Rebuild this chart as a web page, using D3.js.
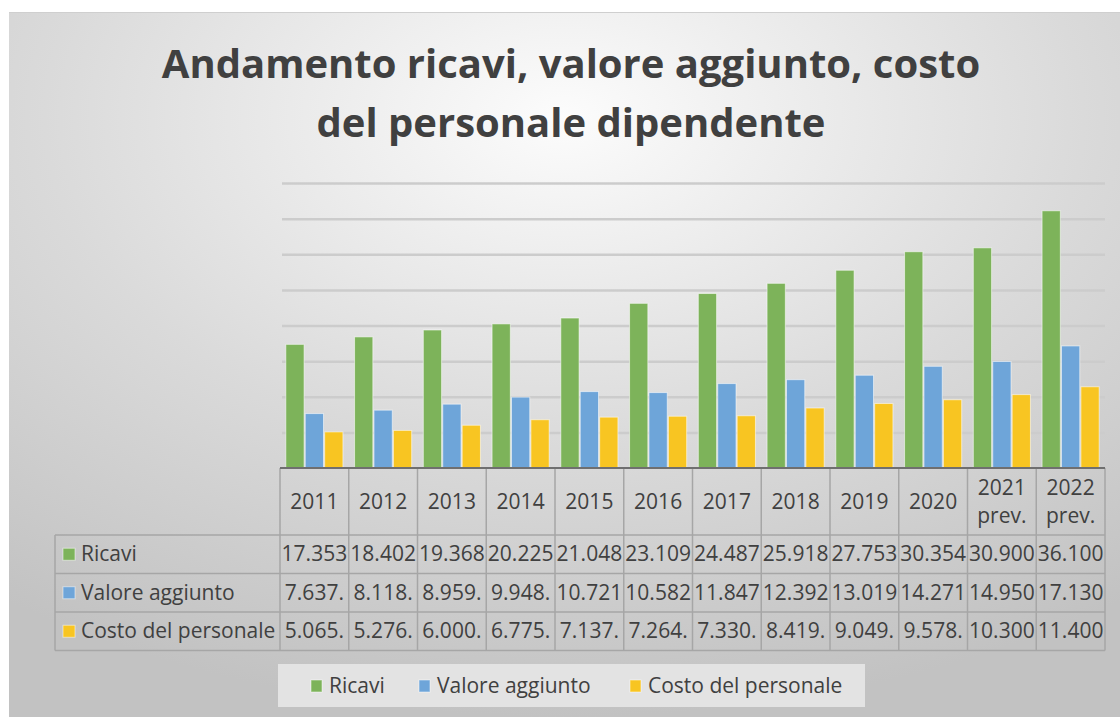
<!DOCTYPE html>
<html>
<head>
<meta charset="utf-8">
<script src="https://cdn.jsdelivr.net/npm/d3@7"></script>
<style>
  html, body { margin: 0; padding: 0; background: #fff; }
  svg { display: block; font-family: "Open Sans", sans-serif; }
</style>
</head>
<body>
<svg id="chart" width="1120" height="717"></svg>
<script>
const categories = ["2011", "2012", "2013", "2014", "2015", "2016", "2017", "2018", "2019", "2020", "2021 prev.", "2022 prev."];
const series = ["Ricavi", "Valore aggiunto", "Costo del personale"];

// values in thousands
const ricavi = [17353, 18402, 19368, 20225, 21048, 23109, 24487, 25918, 27753, 30354, 30900, 36100];
const valoreAggiunto = [7637, 8118, 8959, 9948, 10721, 10582, 11847, 12392, 13019, 14271, 14950, 17130];
const costoPersonale = [5065, 5276, 6000, 6775, 7137, 7264, 7330, 8419, 9049, 9578, 10300, 11400];

// text as shown in the data table (cells clip long numbers)
const ricaviText = ["17.353", "18.402", "19.368", "20.225", "21.048", "23.109", "24.487", "25.918", "27.753", "30.354", "30.900", "36.100"];
const valoreText = ["7.637.", "8.118.", "8.959.", "9.948.", "10.721", "10.582", "11.847", "12.392", "13.019", "14.271", "14.950", "17.130"];
const costoText = ["5.065.", "5.276.", "6.000.", "6.775.", "7.137.", "7.264.", "7.330.", "8.419.", "9.049.", "9.578.", "10.300", "11.400"];

const yTicks = [0, 5000, 10000, 15000, 20000, 25000, 30000, 35000, 40000];
const colors = ["#7db35a", "#6ea5d9", "#f8c522"];
const titleLines = ["Andamento ricavi, valore aggiunto, costo", "del personale dipendente"];

const values = [ricavi, valoreAggiunto, costoPersonale];
const texts = [ricaviText, valoreText, costoText];
const data = categories.map((c, i) => ({
    cat: c,
    vals: series.map((s, j) => ({ key: s, value: values[j][i] }))
}));

const svg = d3.select("svg#chart");
const width = 1120, height = 717;
const textColor = "#404040";
const lineColor = "#a6a6a6";

// BACKGROUND
const defs = svg.append("defs");
const bg = defs.append("radialGradient").attr("id", "bg")
    .attr("cx", "0.5").attr("cy", "0.15").attr("r", "0.85");
bg.append("stop").attr("offset", "0").attr("stop-color", "#fcfcfc");
bg.append("stop").attr("offset", "0.55").attr("stop-color", "#dadada");
bg.append("stop").attr("offset", "1").attr("stop-color", "#c2c2c2");

const gridGrad = defs.append("linearGradient").attr("id", "grid")
    .attr("gradientUnits", "userSpaceOnUse")
    .attr("x1", 0).attr("x2", 0).attr("y1", 183).attr("y2", 468);
gridGrad.append("stop").attr("offset", "0").attr("stop-color", "#cccccc");
gridGrad.append("stop").attr("offset", "1").attr("stop-color", "#727272");

svg.append("rect").attr("x", 9).attr("y", 12).attr("width", width - 9).attr("height", height - 12)
    .attr("fill", "url(#bg)");
svg.append("line").attr("x1", 9).attr("x2", width).attr("y1", 12.5).attr("y2", 12.5)
    .attr("stroke", "#cfcfcf").attr("stroke-width", 1);

// TITLE
svg.append("g").selectAll("text")
    .data(titleLines)
    .join("text")
    .attr("x", 571)
    .attr("y", (d, i) => 78 + i * 59)
    .attr("text-anchor", "middle")
    .attr("font-size", 40)
    .attr("font-weight", 700)
    .attr("fill", textColor)
    .text(d => d);

// SCALES
const margin = { left: 280, right: 15, top: 183, bottom: 249 };
const xScale = d3.scaleBand()
    .domain(categories)
    .range([margin.left, width - margin.right])
    .padding(0);

const xInner = d3.scaleBand()
    .domain(series)
    .range([0, xScale.bandwidth()])
    .paddingInner(0.06)
    .paddingOuter(0.3);

const yScale = d3.scaleLinear()
    .domain([0, 40000])
    .range([height - margin.bottom, margin.top]);

// GRIDLINES
const yAxis = g => g.attr("transform", `translate(${margin.left},0)`)
    .call(d3.axisLeft(yScale).tickValues(yTicks.slice(1)).tickSize(-(width - margin.right - margin.left - 2)).tickFormat(""))
    .call(g => g.select(".domain").remove())
    .call(g => g.selectAll(".tick line").attr("stroke", "url(#grid)").attr("stroke-width", 2.5).attr("transform", "translate(2,0)"));
svg.append("g").call(yAxis);

// BARS
svg.append("g").selectAll("g")
    .data(data)
    .join("g")
    .attr("transform", d => `translate(${xScale(d.cat)},0)`)
    .selectAll("rect")
    .data(d => d.vals)
    .join("rect")
    .attr("x", d => xInner(d.key))
    .attr("y", d => yScale(d.value))
    .attr("width", xInner.bandwidth())
    .attr("height", d => yScale(0) - yScale(d.value))
    .attr("fill", (d, i) => colors[i])
    .attr("stroke", "#ffffff")
    .attr("stroke-opacity", 0.55)
    .attr("stroke-width", 1);

// DATA TABLE
const tableTop = yScale(0);
const headerH = 67;
const rowH = 38.5;
const labelLeft = 55;
const table = svg.append("g").attr("font-size", 21).attr("fill", textColor);

// header cells
const header = table.selectAll("g.head")
    .data(categories)
    .join("g").attr("class", "head")
    .attr("transform", d => `translate(${xScale(d) + xScale.bandwidth() / 2},${tableTop})`);
header.selectAll("text")
    .data(d => d.split(" "))
    .join("text")
    .attr("text-anchor", "middle")
    .attr("y", (d, i, n) => n.length === 1 ? 41 : 27 + i * 28)
    .text(d => d);

// body rows
series.forEach((s, j) => {
    const y0 = tableTop + headerH + j * rowH;
    const row = table.append("g").attr("transform", `translate(0,${y0})`);
    row.append("rect").attr("x", 63).attr("y", rowH / 2 - 6).attr("width", 12).attr("height", 12)
        .attr("fill", colors[j]).attr("stroke", "#ffffff").attr("stroke-opacity", 0.5);
    row.append("text").attr("x", 81).attr("y", rowH / 2 + 7).text(s);
    row.selectAll("text.val")
        .data(texts[j])
        .join("text").attr("class", "val")
        .attr("x", (d, i) => xScale(categories[i]) + xScale.bandwidth() / 2)
        .attr("y", rowH / 2 + 7)
        .attr("text-anchor", "middle")
        .text(d => d);
});

// table borders
const tableBottom = tableTop + headerH + series.length * rowH;
const borders = table.append("g").attr("stroke", lineColor).attr("stroke-width", 1.5).attr("fill", "none");
xScale.domain().concat(["end"]).forEach((c, i) => {
    const x = i < categories.length ? xScale(c) : xScale.range()[1];
    borders.append("line").attr("x1", x).attr("x2", x).attr("y1", tableTop).attr("y2", tableBottom);
});
d3.range(series.length + 1).forEach(k => {
    const y = tableTop + headerH + k * rowH;
    borders.append("line").attr("x1", labelLeft).attr("x2", xScale.range()[1]).attr("y1", y).attr("y2", y);
});
borders.append("line").attr("x1", labelLeft).attr("x2", labelLeft).attr("y1", tableTop + headerH).attr("y2", tableBottom);

// x axis line
svg.append("line")
    .attr("x1", margin.left).attr("x2", xScale.range()[1])
    .attr("y1", tableTop).attr("y2", tableTop)
    .attr("stroke", "#6f6f6f").attr("stroke-width", 2);

// LEGEND
const legend = svg.append("g");
legend.append("rect").attr("x", 278).attr("y", 664).attr("width", 587).attr("height", 43).attr("fill", "#e3e3e3");
const legendX = [311, 419, 630];
const items = legend.selectAll("g.item")
    .data(series)
    .join("g").attr("class", "item")
    .attr("transform", (d, i) => `translate(${legendX[i]},686)`);
items.append("rect").attr("x", 0).attr("y", -6).attr("width", 11).attr("height", 12)
    .attr("fill", (d, i) => colors[i]).attr("stroke", "#ffffff").attr("stroke-opacity", 0.5);
items.append("text").attr("x", 18).attr("y", 7).attr("font-size", 21).attr("fill", textColor).text(d => d);
</script>
</body>
</html>
